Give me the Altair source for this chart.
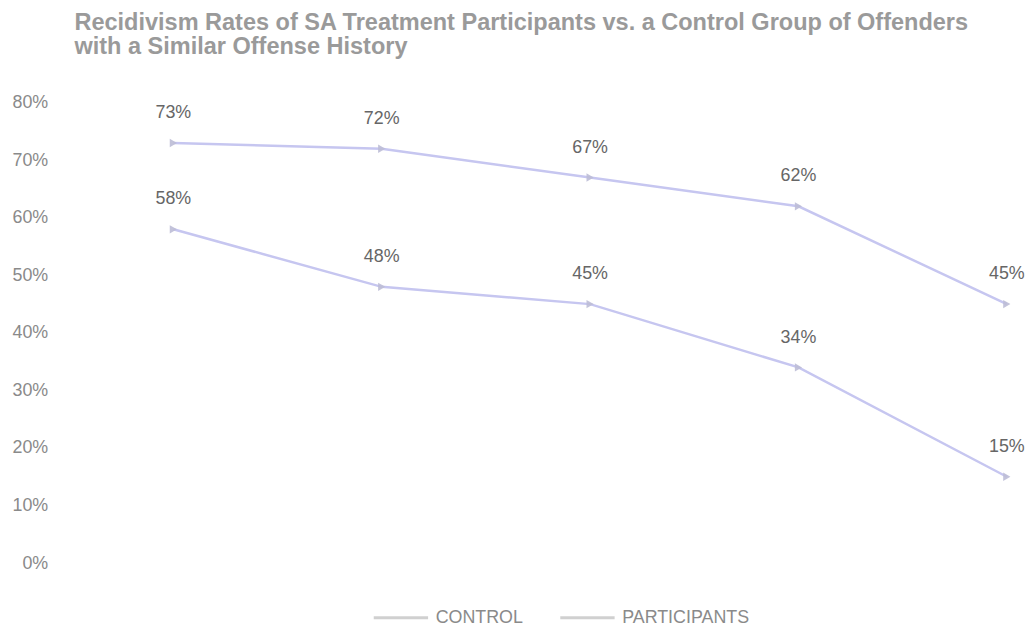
import altair as alt
import pandas as pd

periods = ["P1", "P2", "P3", "P4", "P5"]
series_names = ["CONTROL", "PARTICIPANTS"]
control = [0.73, 0.72, 0.67, 0.62, 0.45]
participants = [0.58, 0.48, 0.45, 0.34, 0.15]

rows = []
for p, c, s in zip(periods, control, participants):
    rows.append({"period": p, "series": series_names[0], "rate": c})
    rows.append({"period": p, "series": series_names[1], "rate": s})
df = pd.DataFrame(rows)

FONT = "Liberation Sans"
LINE = "#c6c6f0"

x = alt.X("period:N", sort=periods,
          scale=alt.Scale(type="point", padding=0.3, align=0.91),
          axis=None)
y = alt.Y("rate:Q", scale=alt.Scale(domain=[0, 0.8], nice=False),
          axis=alt.Axis(format=".0%", values=[0, .1, .2, .3, .4, .5, .6, .7, .8],
                        grid=False, domain=False, ticks=False, labelPadding=12,
                        labelFont=FONT, labelFontSize=18, labelColor="#8a8a8a",
                        title=None))

base = alt.Chart(df)

lines = base.mark_line(strokeWidth=2.5, color=LINE).encode(
    x=x, y=y, detail="series:N")

legend_layer = base.transform_filter("false").mark_line(strokeWidth=3).encode(
    x=x, y=y,
    color=alt.Color("series:N", sort=series_names,
                    scale=alt.Scale(domain=series_names, range=["#d0d0d0", "#d0d0d0"]),
                    legend=alt.Legend(orient="none", legendX=315, legendY=490,
                                      direction="horizontal", title=None,
                                      symbolType="stroke",
                                      symbolStrokeWidth=3, symbolSize=3000,
                                      labelFont=FONT, labelFontSize=18,
                                      labelColor="#8a8a8a", labelOffset=6,
                                      columnPadding=30)),
)

points = base.mark_point(shape="triangle-right", filled=True, size=70,
                         color="#bdbdd6", opacity=0.9).encode(
    x=x, y=y, detail="series:N")

labels = base.mark_text(dy=-30, font=FONT, fontSize=18, color="#666666").encode(
    x=x, y=y, detail="series:N",
    text=alt.Text("rate:Q", format=".0%"))

chart = alt.layer(lines, legend_layer, points, labels).properties(
    width=966, height=464,
    background="white",
    autosize=alt.AutoSizeParams(type="none"),
    padding={"left": 52, "top": 93, "right": 8, "bottom": 65},
    title=alt.TitleParams(
        ["Recidivism Rates of SA Treatment Participants vs. a Control Group of Offenders",
         "with a Similar Offense History"],
        anchor="start", dx=63, offset=35, font=FONT, fontSize=23.7,
        fontWeight="bold", color="#9a9a9a", lineHeight=25),
).configure_view(strokeWidth=0)

chart.save("out.html", embed_options={"renderer": "svg", "actions": False})
